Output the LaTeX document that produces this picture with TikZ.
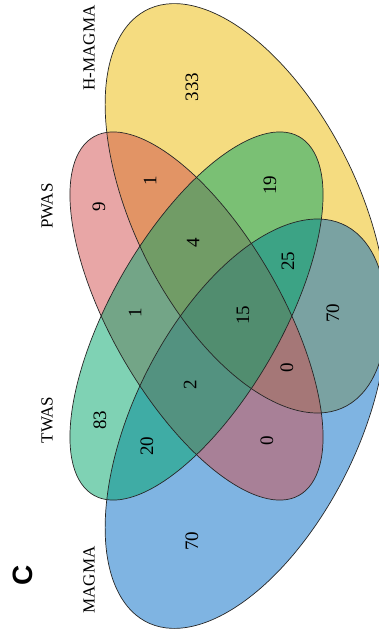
\documentclass[tikz,border=0pt]{standalone}
\usepackage{fontspec}
\setmainfont{Liberation Serif}
\newfontfamily\panelfont{Liberation Sans}
\usepackage{xcolor}
\usepackage{tikz}
\usetikzlibrary{positioning, calc}

\definecolor{hmagmaC}{RGB}{235,185,1}
\definecolor{pwasC}{RGB}{209,77,77}
\definecolor{twasC}{RGB}{0,165,105}
\definecolor{magmaC}{RGB}{0,105,197}

\tikzset{
  setfill/.style={fill=#1, fill opacity=0.5},
  setline/.style={draw=black!85, line width=0.7pt},
  setname/.style={font=\fontsize{17}{17}\selectfont, rotate=90},
  count/.style={font=\fontsize{19}{19}\selectfont, rotate=90},
}

\begin{document}
\begin{tikzpicture}[x=1pt,y=1pt]
  \useasboundingbox (0,0) rectangle (379,-631);

  % Four ellipses (clipped at the right edge)
  \begin{scope}
    \clip (0,0) rectangle (379,-631);
    \begin{scope}[shift={(196.5,-316)}, xscale=493.6, yscale=718]
      % fills: H-MAGMA, MAGMA, PWAS, TWAS
      \fill[setfill=hmagmaC, shift={(0.10,0.15)}, rotate=-45] (0,0) ellipse [x radius=0.35, y radius=0.20];
      \fill[setfill=magmaC, shift={(0.10,-0.15)}, rotate=45] (0,0) ellipse [x radius=0.35, y radius=0.20];
      \fill[setfill=pwasC, rotate=-45] (0,0) ellipse [x radius=0.33, y radius=0.15];
      \fill[setfill=twasC, rotate=45] (0,0) ellipse [x radius=0.33, y radius=0.15];
      % outlines
      \draw[setline, shift={(0.10,0.15)}, rotate=-45] (0,0) ellipse [x radius=0.35, y radius=0.20];
      \draw[setline, shift={(0.10,-0.15)}, rotate=45] (0,0) ellipse [x radius=0.35, y radius=0.20];
      \draw[setline, rotate=-45] (0,0) ellipse [x radius=0.33, y radius=0.15];
      \draw[setline, rotate=45] (0,0) ellipse [x radius=0.33, y radius=0.15];
    \end{scope}
  \end{scope}

  % Set names
  \node[setname] (lHMAGMA) at (89,-48) {H-MAGMA};
  \node[setname] (lPWAS) at (47,-206) {PWAS};
  \node[setname] (lTWAS) at (47,-420) {TWAS};
  \node[setname] (lMAGMA) at (89,-580) {MAGMA};

  % Panel letter
  \node[font=\panelfont\bfseries\fontsize{28}{28}\selectfont, rotate=90] (panel) at (23,-575) {C};

  % Region counts
  \node[count] (cH) at (192,-87) {333};
  \node[count] (cP) at (99,-207) {9};
  \node[count] (cPH) at (150,-181) {1};
  \node[count] (cTH) at (270,-185) {19};
  \node[count] (cPTH) at (193,-243) {4};
  \node[count] (cTHM) at (288,-261) {25};
  \node[count] (cPT) at (135,-313) {1};
  \node[count] (cAll) at (243,-315) {15};
  \node[count] (cHM) at (333,-313) {70};
  \node[count] (cPTM) at (190,-385) {2};
  \node[count] (cPHM) at (287,-368) {0};
  \node[count] (cT) at (100,-420) {83};
  \node[count] (cTM) at (147,-446) {20};
  \node[count] (cPM) at (267,-441) {0};
  \node[count] (cM) at (192,-541) {70};
\end{tikzpicture}
\end{document}
